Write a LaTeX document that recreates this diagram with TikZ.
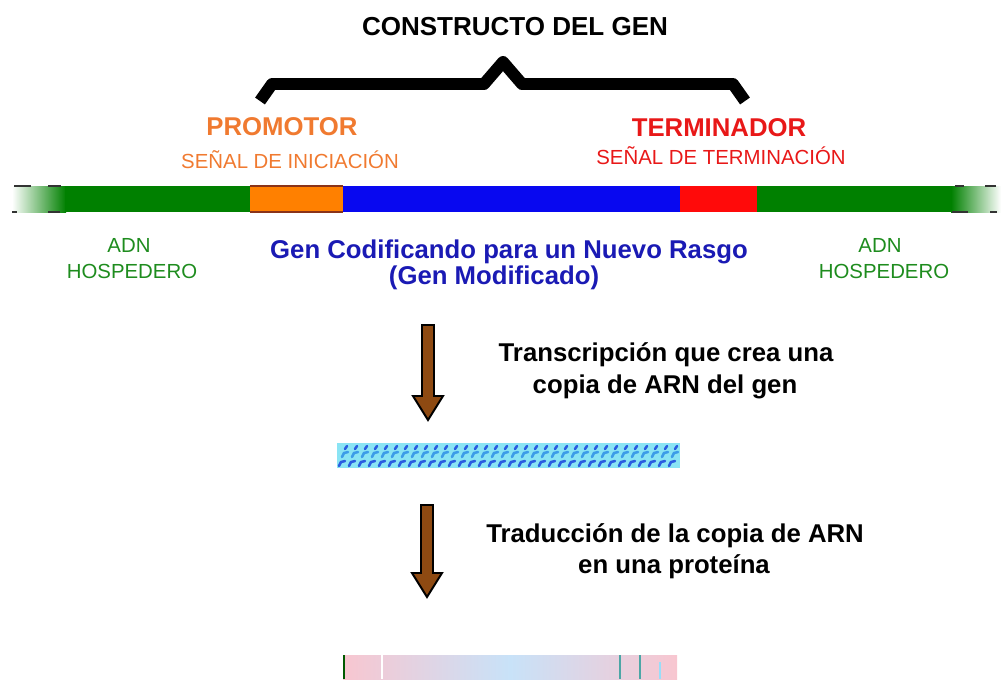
\documentclass[tikz,border=0pt]{standalone}
\usepackage{fontspec}
\setmainfont{Liberation Sans}
\usetikzlibrary{positioning, calc}

\definecolor{verdeADN}{HTML}{008000}
\definecolor{naranjaProm}{HTML}{FF8000}
\definecolor{azulGen}{HTML}{0808F0}
\definecolor{rojoTerm}{HTML}{FF0A0A}
\definecolor{cafeFlecha}{HTML}{8E4A12}
\definecolor{textoNaranja}{HTML}{F07A30}
\definecolor{textoRojo}{HTML}{E81818}
\definecolor{textoAzul}{HTML}{1A1AB4}
\definecolor{textoVerde}{HTML}{1E8C1E}
\definecolor{fondoARN}{HTML}{8AE4F4}
\definecolor{marcaARN}{HTML}{2A5CE0}
\definecolor{marcaClara}{HTML}{3C9CE8}
\definecolor{rosaProt}{HTML}{F8C6D0}
\definecolor{celesteProt}{HTML}{C8E2F8}

\begin{document}
\begin{tikzpicture}[x=0.025cm, y=-0.025cm]
    \tikzstyle{titulo}=[font=\fontsize{18.5}{22}\selectfont\bfseries, anchor=base, inner sep=0]
    \tikzstyle{grande}=[font=\fontsize{18.3}{22}\selectfont\bfseries, anchor=base, inner sep=0]
    \tikzstyle{chico}=[font=\fontsize{14.5}{18}\selectfont, anchor=base, inner sep=0]
    \tikzstyle{flecha}=[draw=black, fill=cafeFlecha, line width=1.4pt, line join=miter]
    \tikzstyle{marca}=[draw=marcaARN, line width=1.8pt, line cap=round]
    \tikzstyle{tizne}=[draw=black!80, line width=1.3pt]

    \useasboundingbox (0,0) rectangle (1003,679);

    % title and brace
    \node[titulo] (titulo) at (515,35) {CONSTRUCTO DEL GEN};
    \draw[line width=8.5pt, line join=round] (260,101) -- (272,84) -- (484,84) -- (503,62)
        -- (522,84) -- (733,84) -- (745,101);

    \node[grande, text=textoNaranja] (prom) at (282,135) {PROMOTOR};
    \node[chico, text=textoNaranja] (promsen) at (290,168) {SEÑAL DE INICIACIÓN};
    \node[grande, text=textoRojo] (term) at (719,136) {TERMINADOR};
    \node[chico, text=textoRojo] (termsen) at (721,164) {SEÑAL DE TERMINACIÓN};

    % DNA strip
    \shade[left color=white, right color=verdeADN] (12,186) rectangle (66,212);
    \fill[verdeADN] (65,186) rectangle (250,212);
    \fill[naranjaProm] (250,186) rectangle (343,212);
    \fill[azulGen] (343,186) rectangle (680,212);
    \fill[rojoTerm] (680,186) rectangle (757,212);
    \fill[verdeADN] (757,186) rectangle (952,212);
    \shade[left color=verdeADN, right color=white] (951,186) rectangle (1001,212);
    \draw[draw=black!60!red!60!brown, line width=1pt] (250,186) -- (343,186) (250,212) -- (343,212);
    \draw[tizne] (14,186) -- (31,186) (48,186) -- (61,186) (12,212) -- (17,212) (48,212) -- (60,212);
    \draw[tizne] (955,186) -- (964,186) (985,186) -- (996,186) (952,212) -- (968,212) (990,212) -- (997,212);

    \node[chico, text=textoVerde] (adnI) at (129,252) {ADN};
    \node[chico, text=textoVerde] (hospI) at (132,278) {HOSPEDERO};
    \node[chico, text=textoVerde] (adnD) at (880,252) {ADN};
    \node[chico, text=textoVerde] (hospD) at (884,278) {HOSPEDERO};
    \node[grande, text=textoAzul] (gen) at (509,258) {Gen Codificando para un Nuevo Rasgo};
    \node[grande, text=textoAzul] (genmod) at (494,284) {(Gen Modificado)};

    % transcription
    \coordinate (t1) at (428,325);
    \coordinate (t2) at (428,420);
    \filldraw[flecha] ($(t1)+(-6,0)$) -- ($(t1)+(6,0)$) -- ($(t2)+(6,-24)$) -- ($(t2)+(15,-24)$)
        -- (t2) -- ($(t2)+(-15,-24)$) -- ($(t2)+(-6,-24)$) -- cycle;
    \node[grande] (transc) at (666,361) {Transcripción que crea una};
    \node[grande] (copia) at (665,393) {copia de ARN del gen};

    % RNA copy
    \fill[fondoARN] (337,443) rectangle (680,468);
    \foreach \x in {339,349,...,671} {
        \draw[marca] (\x,466) -- (\x+2,462) -- (\x+6,461);
        \draw[marca, draw=marcaClara] (\x+3,457) -- (\x+5,453) -- (\x+9,452);
        \draw[marca] (\x+6,449) -- (\x+8,446);
    }

    % translation
    \coordinate (u1) at (427,505);
    \coordinate (u2) at (427,597);
    \filldraw[flecha] ($(u1)+(-6,0)$) -- ($(u1)+(6,0)$) -- ($(u2)+(6,-24)$) -- ($(u2)+(15,-24)$)
        -- (u2) -- ($(u2)+(-15,-24)$) -- ($(u2)+(-6,-24)$) -- cycle;
    \node[grande] (trad) at (675,542) {Traducción de la copia de ARN};
    \node[grande] (prot) at (674,573) {en una proteína};

    % protein
    \shade[left color=rosaProt, right color=rosaProt, middle color=celesteProt] (343,655) rectangle (677,679);
    \draw[verdeADN!70!black, line width=1.2pt] (344,655) -- (344,679);
    \draw[white, line width=1pt] (382,655) -- (382,679);
    \draw[teal!70, line width=0.8pt] (620,655) -- (620,679) (640,655) -- (640,679);
    \draw[cyan!40, line width=0.8pt] (660,662) -- (660,679);
\end{tikzpicture}
\end{document}
